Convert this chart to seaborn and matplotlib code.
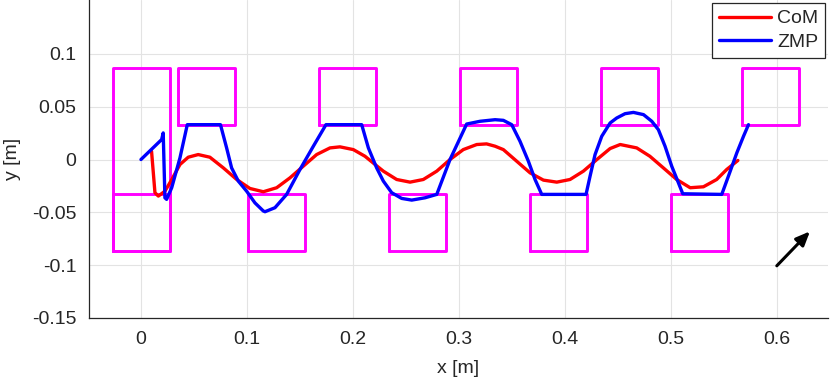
import numpy as np
import pandas as pd
import matplotlib
matplotlib.use("Agg")
import matplotlib.pyplot as plt
import seaborn as sns

# ---------------- data ----------------
com_x = [0.010, 0.0132, 0.0164, 0.0226, 0.029, 0.0368, 0.0446, 0.054, 0.065, 0.0777,
         0.0903, 0.1028, 0.1154, 0.128, 0.1406, 0.1531, 0.1657, 0.1783, 0.1877, 0.2003,
         0.2113, 0.2208, 0.2286, 0.2412, 0.2538, 0.2663, 0.279, 0.2915, 0.304, 0.3167,
         0.326, 0.334, 0.3418, 0.3544, 0.367, 0.3796, 0.3922, 0.4047, 0.4173, 0.430,
         0.4425, 0.452, 0.4676, 0.480, 0.4927, 0.5053, 0.518, 0.5305, 0.543, 0.5525, 0.563]
com_y = [0.0078, -0.0314, -0.0346, -0.030, -0.019, -0.0047, 0.0022, 0.0047, 0.0022, -0.0079,
         -0.0189, -0.0274, -0.0305, -0.0267, -0.0173, -0.0063, 0.0047, 0.011, 0.012, 0.0094,
         0.0031, -0.0047, -0.011, -0.0189, -0.0214, -0.0189, -0.011, 0.0, 0.0094, 0.0142,
         0.0148, 0.0126, 0.0094, -0.0016, -0.0126, -0.0195, -0.0214, -0.0189, -0.011, 0.0,
         0.0104, 0.0142, 0.011, 0.0031, -0.0079, -0.0189, -0.0267, -0.0258, -0.0189, -0.0094, -0.0009]

zmp_x = [0.0, 0.0195, 0.021, 0.0226, 0.0242, 0.029, 0.0368, 0.0437, 0.075, 0.0808,
         0.0855, 0.0918, 0.0997, 0.1075, 0.1154, 0.117, 0.1264, 0.1374, 0.150, 0.1626,
         0.1745, 0.2082, 0.2145, 0.2223, 0.2286, 0.2365, 0.2459, 0.2554, 0.268, 0.279,
         0.2915, 0.3072, 0.3198, 0.334, 0.3418, 0.3497, 0.3575, 0.3654, 0.3717, 0.378,
         0.4198, 0.4236, 0.4283, 0.4346, 0.4425, 0.4487, 0.4566, 0.4645, 0.474, 0.4818,
         0.488, 0.4943, 0.5006, 0.5069, 0.511, 0.5478, 0.5541, 0.562, 0.5683, 0.573]
zmp_y = [0.0, 0.0189, 0.0252, -0.0362, -0.0377, -0.0267, 0.0016, 0.033, 0.033, 0.011,
         -0.0079, -0.0204, -0.030, -0.041, -0.0487, -0.0494, -0.0456, -0.033, -0.0094, 0.0126,
         0.033, 0.033, 0.011, -0.0079, -0.0204, -0.0314, -0.0368, -0.0384, -0.0362, -0.033,
         0.0, 0.0336, 0.0362, 0.0377, 0.0371, 0.033, 0.0173, -0.0016, -0.0189, -0.033,
         -0.033, -0.0157, 0.0047, 0.022, 0.0346, 0.0393, 0.0434, 0.0446, 0.0425, 0.0362,
         0.0283, 0.0126, -0.0063, -0.022, -0.0324, -0.033, -0.0157, 0.0063, 0.022, 0.033]

# footsteps (centres) and foot half-sizes
foot_x = [0.0618, 0.1278, 0.1948, 0.2608, 0.3278, 0.3939, 0.4608, 0.5269, 0.5939]
foot_y = [0.060, -0.060, 0.060, -0.060, 0.060, -0.060, 0.060, -0.060, 0.060]
foot_half = [0.0269, 0.0269]
# initial double support: support polygon + right foot
init_x = [0.0005, 0.0005]
init_y = [0.0, -0.060]
init_half_y = [0.0868, 0.0269]

arrow_start = [0.5997, -0.1006]
arrow_end = [0.631, -0.068]

xticks = [0, 0.1, 0.2, 0.3, 0.4, 0.5, 0.6]
yticks = [-0.15, -0.1, -0.05, 0, 0.05, 0.1]
ytick_labels = ["-0.15", "-0.1", "-0.05", "0", "0.05", "0.1"]
xtick_labels = ["0", "0.1", "0.2", "0.3", "0.4", "0.5", "0.6"]

# ---------------- style ----------------
sns.set_theme(style="whitegrid")
plt.rcParams['font.family'] = ['Liberation Sans', 'DejaVu Sans']

fig = plt.figure(figsize=(8.3, 3.84), dpi=100)
ax = fig.add_axes([89 / 830, (384 - 318) / 384, 739 / 830, 318 / 384])
ax.set_facecolor("white")

MAG = "#ff00ff"
line_kw = dict(solid_joinstyle="round", solid_capstyle="round")


def rect_df(cx, cy, hx, hy):
    xs = [cx - hx, cx + hx, cx + hx, cx - hx, cx - hx]
    ys = [cy - hy, cy - hy, cy + hy, cy + hy, cy - hy]
    return pd.DataFrame({"x": xs, "y": ys})


for cx, cy, hy in zip(init_x, init_y, init_half_y):
    d = rect_df(cx, cy, foot_half[0], hy)
    sns.lineplot(data=d, x="x", y="y", sort=False, estimator=None, ax=ax,
                 color=MAG, linewidth=2.1, legend=False)
for cx, cy in zip(foot_x, foot_y):
    d = rect_df(cx, cy, foot_half[0], foot_half[1])
    sns.lineplot(data=d, x="x", y="y", sort=False, estimator=None, ax=ax,
                 color=MAG, linewidth=2.1, legend=False)

com_df = pd.DataFrame({"x": com_x, "y": com_y})
zmp_df = pd.DataFrame({"x": zmp_x, "y": zmp_y})
sns.lineplot(data=com_df, x="x", y="y", sort=False, estimator=None, ax=ax,
             color="#ff0000", linewidth=2.4, label="CoM", **line_kw)
sns.lineplot(data=zmp_df, x="x", y="y", sort=False, estimator=None, ax=ax,
             color="#0000ff", linewidth=2.4, label="ZMP", **line_kw)

ax.annotate("", xy=arrow_end, xytext=arrow_start,
            arrowprops=dict(arrowstyle="-|>,head_length=0.7,head_width=0.3",
                            color="black", lw=2.2, shrinkA=0, shrinkB=0))

ax.set_xlim(-0.049, 0.648)
ax.set_ylim(-0.15, 0.151)
ax.set_xticks(xticks)
ax.set_xticklabels(xtick_labels)
ax.set_yticks(yticks)
ax.set_yticklabels(ytick_labels)
ax.set_xlabel("x [m]", fontsize=14, color="#262626", labelpad=9)
ax.set_ylabel("y [m]", fontsize=14, color="#262626", labelpad=8)

ax.grid(True, color="#e3e3e3", linewidth=0.8)
for s in ["top", "right"]:
    ax.spines[s].set_visible(False)
for s in ["left", "bottom"]:
    ax.spines[s].set_visible(True)
    ax.spines[s].set_color("#262626")
    ax.spines[s].set_linewidth(0.9)
ax.tick_params(axis="both", direction="in", length=5, width=0.8, color="#262626",
               labelsize=14, labelcolor="#262626", pad=9)

leg = ax.legend(loc="upper right", fontsize=14, frameon=True, fancybox=False,
                edgecolor="#262626", framealpha=1, handlelength=2.7,
                borderaxespad=0.15, borderpad=0.35, labelspacing=0.3, handletextpad=0.3)
leg.get_frame().set_linewidth(0.9)
leg.get_frame().set_boxstyle("square", pad=0.0)

fig.savefig("out.png", dpi=100)
